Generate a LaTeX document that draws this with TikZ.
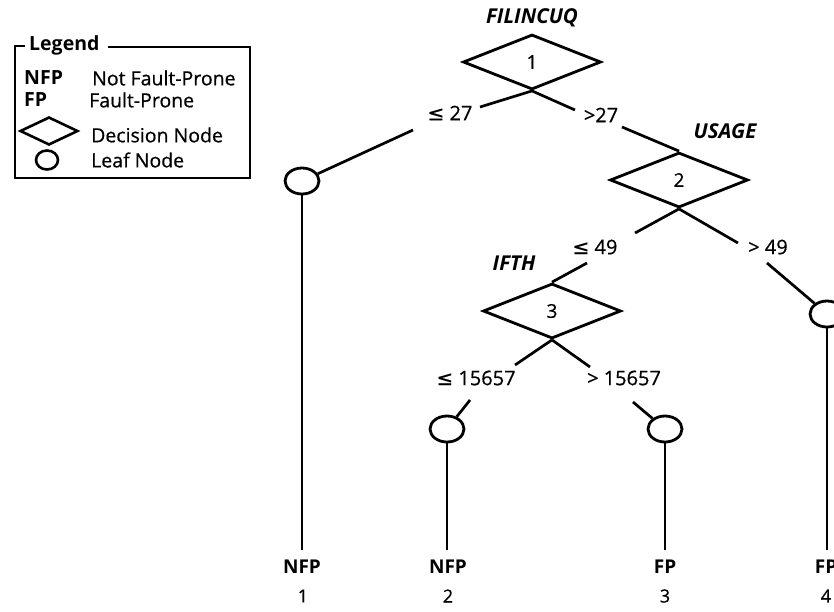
\documentclass[tikz,border=0pt]{standalone}
\usepackage{fontspec}
\setmainfont{Open Sans}
\newfontfamily\medf{Open Sans}[FakeBold=0.6]
\newfontfamily\symf{DejaVu Sans}[FakeBold=0.6]
\usetikzlibrary{shapes.geometric}
\begin{document}
\begin{tikzpicture}[x=1pt,y=-1pt,
  dec/.style={draw, diamond, minimum width=138pt, minimum height=55pt, inner sep=0pt, line width=2.8pt, font=\fontsize{19}{22}\selectfont\medf},
  leaf/.style={draw, ellipse, minimum width=34pt, minimum height=26pt, inner sep=0pt, line width=2.8pt},
  conn/.style={line width=2.7pt},
  lbl/.style={font=\fontsize{20}{23}\selectfont\medf, inner sep=0pt},
  var/.style={font=\fontsize{20.5}{24}\selectfont\bfseries\itshape, inner sep=0pt},
  cls/.style={font=\fontsize{19}{22}\selectfont\bfseries, inner sep=0pt},
  num/.style={font=\fontsize{18}{21}\selectfont\medf, inner sep=0pt},
  leg/.style={font=\fontsize{19.5}{23}\selectfont\medf, inner sep=0pt, anchor=west},
  legb/.style={font=\fontsize{19.5}{23}\selectfont\bfseries, inner sep=0pt, anchor=west},
  legbox/.style={line width=1.8pt},
]
\useasboundingbox (0,0) rectangle (834,611);

% legend
\draw[legbox] (25,46) -| (15,178) -| (250,47) -- (108,47);
\node[legb] (lt) at (29,45) {Legend};
\node[legb] (lnfp) at (24,78) {NFP};
\node[leg] (lnfpt) at (92,78) {Not Fault-Prone};
\node[legb] (lfp) at (24,100) {FP};
\node[leg] (lfpt) at (89,100) {Fault-Prone};
\node[draw, diamond, minimum width=58pt, minimum height=28pt, inner sep=0pt, line width=2.6pt] (ld) at (49,131) {};
\node[leg] (ldt) at (91,135) {Decision Node};
\node[draw, ellipse, minimum width=22pt, minimum height=19pt, inner sep=0pt, line width=2.6pt] (lc) at (47,160) {};
\node[leg] (lct) at (91,160) {Leaf Node};

% decision nodes
\node[var] (v1) at (532,18) {FILINCUQ};
\node[dec] (d1) at (532,62) {1};
\node[lbl] (e1) at (450,113) {{\symf ≤} 27};
\node[lbl] (e2) at (601,115) {>27};
\node[var] (v2) at (725,131) {USAGE};
\node[dec] (d2) at (679,180) {2};
\node[lbl] (e3) at (595,247) {{\symf ≤} 49};
\node[lbl] (e4) at (768,247) {> 49};
\node[var] (v3) at (514,263) {IFTH};
\node[dec] (d3) at (552,311) {3};
\node[lbl] (e5) at (476,378) {{\symf ≤} 15657};
\node[lbl] (e6) at (624,378) {> 15657};

% leaves
\node[leaf] (f1) at (302,181) {};
\node[leaf] (f2) at (447,429) {};
\node[leaf] (f3) at (665,429) {};
\node[leaf] (f4) at (827,314) {};

\node[cls] (n1) at (302,567) {NFP};
\node[cls] (n2) at (448,567) {NFP};
\node[cls] (n3) at (665,567) {FP};
\node[cls] (n4) at (826,567) {FP};
\node[num] (k1) at (303,596) {1};
\node[num] (k2) at (448,596) {2};
\node[num] (k3) at (665,596) {3};
\node[num] (k4) at (826,596) {4};

% connector end points
\coordinate (a1) at (480,107);
\coordinate (b1) at (413,130);
\coordinate (a2) at (575,110);
\coordinate (b2) at (622,127);
\coordinate (a3) at (635,233);
\coordinate (b3) at (587,263);
\coordinate (a4) at (738,243);
\coordinate (b4) at (767,263);
\coordinate (a5) at (515,365);
\coordinate (b5) at (470,400);
\coordinate (a6) at (590,367);
\coordinate (b6) at (633,402);
\coordinate (z1) at (302,550);
\coordinate (z2) at (447,550);
\coordinate (z3) at (665,550);
\coordinate (z4) at (827,550);

\draw[conn] (d1.south) -- (a1);
\draw[conn] (b1) -- (f1);
\draw[conn] (d1.south) -- (a2);
\draw[conn] (b2) -- (d2.north);
\draw[conn] (d2.south) -- (a3);
\draw[conn] (b3) -- (d3.north);
\draw[conn] (d2.south) -- (a4);
\draw[conn] (b4) -- (f4);
\draw[conn] (d3.south) -- (a5);
\draw[conn] (b5) -- (f2);
\draw[conn] (d3.south) -- (a6);
\draw[conn] (b6) -- (f3);
\draw[conn] (f1.south) -- (z1);
\draw[conn] (f2.south) -- (z2);
\draw[conn] (f3.south) -- (z3);
\draw[conn] (f4.south) -- (z4);
\end{tikzpicture}
\end{document}
